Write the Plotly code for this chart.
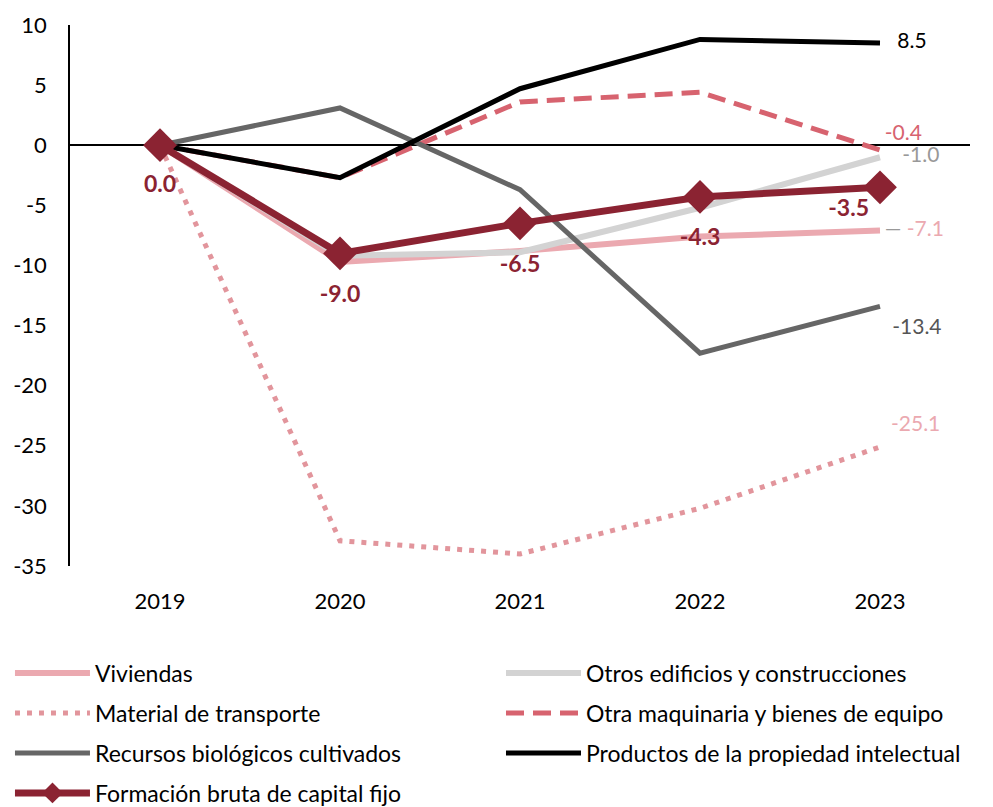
import plotly.graph_objects as go

years = ["2019", "2020", "2021", "2022", "2023"]

viviendas = [0.0, -9.7, -8.8, -7.6, -7.1]
otros_edificios = [0.0, -9.2, -8.9, -5.2, -1.0]
material_transporte = [0.0, -32.9, -34.0, -30.2, -25.1]
otra_maquinaria = [0.0, -2.7, 3.6, 4.4, -0.4]
recursos_biologicos = [0.0, 3.1, -3.7, -17.3, -13.4]
propiedad_intelectual = [0.0, -2.7, 4.7, 8.8, 8.5]
fbcf = [0.0, -9.0, -6.5, -4.3, -3.5]

y_ticks = [10, 5, 0, -5, -10, -15, -20, -25, -30, -35]
y_ticklabels = ["10", "5", "0", "-5", "-10", "-15", "-20", "-25", "-30", "-35"]

FONT = "Lato"
ROJO = "#8b2332"

# nombre, valores, color, trazo, grosor, leyenda, (x, y) de la leyenda
series = [
    ("Viviendas", viviendas, "#eba9b0", "solid", 6, "legend", (0.002, 0.1677)),
    ("Otros edificios y construcciones", otros_edificios, "#d3d3d3", "solid", 6, "legend2", (0.5005, 0.1677)),
    ("Material de transporte", material_transporte, "#e2959c", "5px,7px", 5, "legend3", (0.002, 0.1176)),
    ("Otra maquinaria y bienes de equipo", otra_maquinaria, "#d7636f", "18px,9px", 5, "legend4", (0.5005, 0.1176)),
    ("Recursos biológicos cultivados", recursos_biologicos, "#666666", "solid", 5, "legend5", (0.002, 0.0676)),
    ("Productos de la propiedad intelectual", propiedad_intelectual, "#000000", "solid", 5, "legend6", (0.5005, 0.0676)),
]

fig = go.Figure()
legends = {}
for name, vals, color, dash, width, leg, pos in series:
    fig.add_trace(go.Scatter(
        x=years, y=vals, name=name, mode="lines", legend=leg,
        line=dict(color=color, dash=dash, width=width),
    ))
    legends[leg] = pos

fig.add_trace(go.Scatter(
    x=years, y=fbcf, name="Formación bruta de capital fijo", mode="lines+markers",
    legend="legend7",
    line=dict(color=ROJO, width=7),
    marker=dict(symbol="diamond", size=26, color=ROJO, line=dict(width=0)),
))
legends["legend7"] = (0.002, 0.0175)

# etiquetas de FBCF debajo de cada punto (marcador invisible para separar el texto)
fig.add_trace(go.Scatter(
    x=years, y=fbcf, mode="markers+text", showlegend=False, hoverinfo="skip",
    text=["<b>%.1f</b>" % v for v in fbcf],
    textposition=["bottom center"] * 4 + ["bottom left"],
    textfont=dict(family=FONT, size=23, color=ROJO),
    marker=dict(size=[45, 48, 48, 48, 16], color="rgba(0,0,0,0)", line=dict(width=0)),
))

# etiquetas finales a la derecha
end_vals = [propiedad_intelectual[-1], otra_maquinaria[-1], otros_edificios[-1],
            viviendas[-1], recursos_biologicos[-1], material_transporte[-1]]
end_colors = ["#000000", "#d7636f", "#999999", "#eba9b0", "#555555", "#eba9b0"]
end_pos = ["middle right", "top right", "middle right", "middle right", "bottom right", "top right"]
end_sizes = [26, 6, 34, 6, 18, 16]
end_text = ["%.1f" % v for v in end_vals]
end_text[3] = "<span style='color:#999999'>—</span> " + end_text[3]

fig.add_trace(go.Scatter(
    x=[years[-1]] * len(end_vals), y=end_vals, mode="markers+text",
    showlegend=False, hoverinfo="skip",
    text=end_text, textposition=end_pos,
    textfont=dict(family=FONT, size=21, color=end_colors),
    marker=dict(size=end_sizes, color="rgba(0,0,0,0)", line=dict(width=0)),
))

layout_legends = {}
for leg, (lx, ly) in legends.items():
    layout_legends[leg] = dict(
        x=lx, y=ly, xref="container", yref="container",
        xanchor="left", yanchor="middle",
        font=dict(family=FONT, size=23, color="#000000"),
        itemwidth=75, bgcolor="rgba(0,0,0,0)", borderwidth=0,
    )

fig.update_layout(
    width=985, height=799,
    plot_bgcolor="white", paper_bgcolor="white",
    margin=dict(l=62, r=23, t=17, b=241, autoexpand=False),
    font=dict(family=FONT, size=22, color="#000000"),
    showlegend=True,
    xaxis=dict(
        type="category", range=[-0.5, 4.5], showgrid=False, showline=False, zeroline=False,
        ticks="", ticklabelstandoff=20,
        tickfont=dict(family=FONT, size=22),
    ),
    yaxis=dict(
        range=[-35, 10], tickvals=y_ticks, ticktext=y_ticklabels, showgrid=False,
        showline=True, linecolor="#000000", linewidth=1.5,
        zeroline=True, zerolinecolor="#000000", zerolinewidth=1.5,
        ticks="", ticklabelstandoff=17,
        tickfont=dict(family=FONT, size=22),
    ),
    **layout_legends,
)

fig.write_html("out.html")
